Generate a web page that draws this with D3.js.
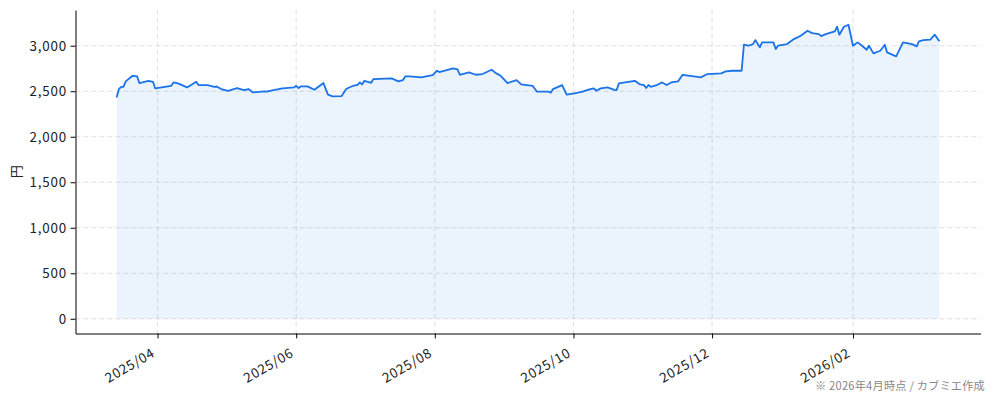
<!DOCTYPE html>
<html>
<head>
<meta charset="utf-8">
<script src="https://cdn.jsdelivr.net/npm/d3@7"></script>
<style>
  body { margin: 0; background: #fff; }
  svg text { font-family: "Noto Sans CJK JP", "Noto Sans", sans-serif; }
</style>
</head>
<body>
<svg id="chart" width="994" height="401"></svg>
<script>
// price series (dates of the line's vertices)
const dates = [
  '2025-03-14','2025-03-15','2025-03-16','2025-03-17','2025-03-18','2025-03-21','2025-03-23','2025-03-24',
  '2025-03-28','2025-03-30','2025-03-31','2025-04-07','2025-04-08','2025-04-10','2025-04-14','2025-04-18',
  '2025-04-19','2025-04-23','2025-04-26','2025-04-27','2025-04-29','2025-05-02','2025-05-06','2025-05-09',
  '2025-05-11','2025-05-13','2025-05-18','2025-05-19','2025-05-22','2025-05-26','2025-05-31','2025-06-01',
  '2025-06-02','2025-06-03','2025-06-06','2025-06-09','2025-06-12','2025-06-13','2025-06-15','2025-06-17',
  '2025-06-21','2025-06-23','2025-06-26','2025-06-28','2025-06-29','2025-06-30','2025-07-01','2025-07-04',
  '2025-07-05','2025-07-13','2025-07-16','2025-07-18','2025-07-19','2025-07-21','2025-07-26','2025-07-31',
  '2025-08-02','2025-08-03','2025-08-09','2025-08-11','2025-08-12','2025-08-16','2025-08-19','2025-08-22',
  '2025-08-26','2025-08-28','2025-08-30','2025-09-02','2025-09-06','2025-09-08','2025-09-13','2025-09-15',
  '2025-09-20','2025-09-21','2025-09-22','2025-09-26','2025-09-28','2025-10-02','2025-10-05','2025-10-08',
  '2025-10-10','2025-10-11','2025-10-13','2025-10-16','2025-10-19','2025-10-20','2025-10-21','2025-10-28',
  '2025-10-30','2025-11-01','2025-11-02','2025-11-03','2025-11-04','2025-11-07','2025-11-09','2025-11-11',
  '2025-11-13','2025-11-16','2025-11-18','2025-11-23','2025-11-26','2025-11-29','2025-12-05','2025-12-07',
  '2025-12-10','2025-12-14','2025-12-15','2025-12-17','2025-12-19','2025-12-20','2025-12-22','2025-12-23',
  '2025-12-28','2025-12-29','2025-12-30','2026-01-03','2026-01-06','2026-01-09','2026-01-12','2026-01-14',
  '2026-01-17','2026-01-18','2026-01-20','2026-01-24','2026-01-25','2026-01-26','2026-01-28','2026-01-30',
  '2026-02-01','2026-02-03','2026-02-05','2026-02-07','2026-02-08','2026-02-10','2026-02-13','2026-02-15',
  '2026-02-16','2026-02-20','2026-02-23','2026-02-27','2026-03-01','2026-03-02','2026-03-04','2026-03-07',
  '2026-03-09','2026-03-11'
];
const prices = [
  2432, 2524, 2549, 2549, 2608, 2670, 2663, 2590,
  2615, 2604, 2531, 2560, 2597, 2586, 2542, 2604,
  2568, 2568, 2549, 2552, 2524, 2505, 2535, 2513,
  2524, 2487, 2498, 2495, 2513, 2531, 2542, 2560,
  2535, 2553, 2553, 2516, 2571, 2590, 2462, 2443,
  2447, 2524, 2560, 2571, 2597, 2575, 2615, 2593,
  2634, 2641, 2608, 2623, 2663, 2663, 2652, 2678,
  2725, 2711, 2751, 2740, 2681, 2707, 2681, 2689,
  2736, 2696, 2670, 2590, 2623, 2575, 2560, 2495,
  2495, 2484, 2524, 2568, 2462, 2480, 2495, 2520,
  2531, 2505, 2531, 2542, 2516, 2513, 2586, 2615,
  2579, 2568, 2535, 2568, 2549, 2571, 2597, 2568,
  2597, 2608, 2681, 2663, 2652, 2689, 2696, 2718,
  2725, 2725, 3011, 3000, 3018, 3062, 2982, 3037,
  3037, 2964, 3000, 3018, 3073, 3110, 3165, 3139,
  3128, 3106, 3128, 3157, 3209, 3121, 3209, 3231,
  3000, 3037, 3000, 2956, 3000, 2916, 2945, 3011,
  2927, 2883, 3037, 3018, 2993, 3048, 3062, 3066,
  3121, 3048
];
const yTicks = [0, 500, 1000, 1500, 2000, 2500, 3000];
const xTicks = ['2025-04-01', '2025-06-01', '2025-08-01', '2025-10-01', '2025-12-01', '2026-02-01'];
const yLabel = '円';
const note = '※ 2026年4月時点 / カブミエ作成';

const W = 994, H = 401;
const margin = { top: 10, right: 13.5, bottom: 67.5, left: 75.5 };
const LINE = '#1a73e8';

const parse = d3.timeParse('%Y-%m-%d');
const data = dates.map((d, i) => ({ date: parse(d), v: prices[i] }));

// matplotlib-like 5% margins around the data
const [t0, t1] = d3.extent(data, d => d.date);
const padT = (t1 - t0) * 0.05;
const vMax = d3.max(prices);
const padV = vMax * 0.05;

const x = d3.scaleTime()
  .domain([new Date(+t0 - padT), new Date(+t1 + padT)])
  .range([margin.left, W - margin.right]);
const y = d3.scaleLinear()
  .domain([0 - padV, vMax + padV])
  .range([H - margin.bottom, margin.top]);

const svg = d3.select('#chart');

// grid
const gridG = svg.append('g').attr('stroke', '#dcdcdc').attr('stroke-width', 0.9).attr('stroke-dasharray', '5,3');
gridG.selectAll('line.gy').data(yTicks).enter().append('line')
  .attr('x1', margin.left).attr('x2', W - margin.right)
  .attr('y1', d => y(d)).attr('y2', d => y(d));
gridG.selectAll('line.gx').data(xTicks.map(parse)).enter().append('line')
  .attr('x1', d => x(d)).attr('x2', d => x(d))
  .attr('y1', margin.top).attr('y2', H - margin.bottom);

// area + line
const area = d3.area().x(d => x(d.date)).y0(y(0)).y1(d => y(d.v));
const line = d3.line().x(d => x(d.date)).y(d => y(d.v));
svg.append('path').datum(data).attr('d', area)
  .attr('fill', LINE).attr('fill-opacity', 0.085);
svg.append('path').datum(data).attr('d', line)
  .attr('fill', 'none').attr('stroke', LINE).attr('stroke-width', 1.8)
  .attr('stroke-linejoin', 'round');

// axes
const yAxis = d3.axisLeft(y).tickValues(yTicks).tickFormat(d3.format(',')).tickSize(4.9).tickSizeOuter(0).tickPadding(4.5);
const yG = svg.append('g').attr('transform', `translate(${margin.left},0)`).call(yAxis);
yG.selectAll('text').attr('font-size', 13.4).attr('fill', '#222')
  .attr('letter-spacing', 0.8).attr('dx', 0.8);

const xAxis = d3.axisBottom(x).tickValues(xTicks.map(parse)).tickFormat(d3.timeFormat('%Y/%m')).tickSize(4.9).tickSizeOuter(0);
const xG = svg.append('g').attr('transform', `translate(0,${H - margin.bottom})`).call(xAxis);
xG.selectAll('text')
  .attr('font-size', 13.4).attr('fill', '#222')
  .attr('letter-spacing', 0.7)
  .attr('text-anchor', 'end')
  .attr('x', -2.5).attr('y', 0).attr('dy', 0)
  .attr('transform', 'translate(0,21) rotate(-30)');

svg.selectAll('.domain, .tick line').attr('stroke', '#000').attr('stroke-width', 1);

// labels
svg.append('text')
  .attr('transform', `translate(21,${(margin.top + H - margin.bottom) / 2}) rotate(-90)`)
  .attr('text-anchor', 'middle').attr('font-size', 13).attr('fill', '#222')
  .text(yLabel);

svg.append('text')
  .attr('x', 985).attr('y', 390).attr('text-anchor', 'end')
  .attr('font-size', 11.2).attr('fill', '#888').attr('letter-spacing', 0.2)
  .text(note);
</script>
</body>
</html>
